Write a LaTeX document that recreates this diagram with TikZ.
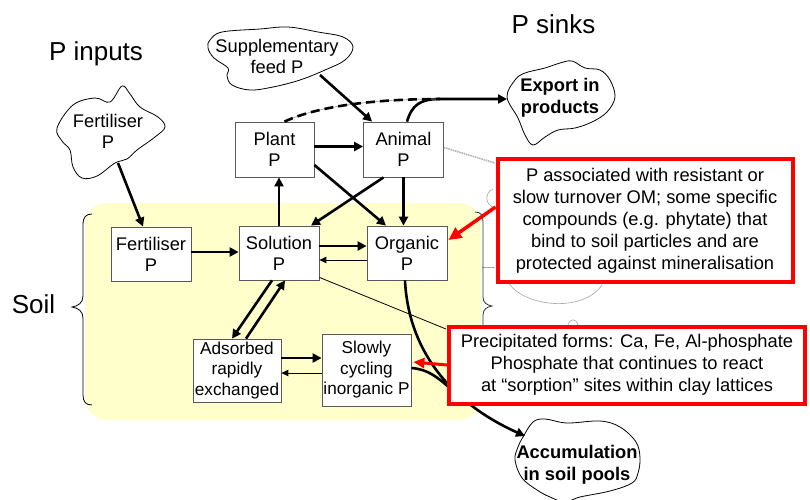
\documentclass[tikz,border=0pt]{standalone}
\usepackage{fontspec}
\setmainfont{Liberation Sans}
\usetikzlibrary{arrows.meta,calc}
\definecolor{soilyellow}{HTML}{FFFFCC}
\definecolor{boxred}{HTML}{FF0000}
\begin{document}
\begin{tikzpicture}[x=1pt,y=-1pt,
  box/.style={draw=black!65,line width=0.8pt,fill=white,align=center,inner sep=0pt,font=\fontsize{18.3}{21}\selectfont},
  sbox/.style={box,font=\fontsize{17.2}{20.5}\selectfont},
  redbox/.style={draw=boxred,line width=4pt,fill=white,align=center,inner sep=0pt,font=\fontsize{18.3}{22}\selectfont},
  thickarr/.style={line width=2.6pt,-{Triangle[length=9pt,width=9pt]}},
  thinarr/.style={line width=1pt,-{Triangle[length=7pt,width=6.5pt]}},
  redarr/.style={draw=boxred,line width=3.5pt,-{Triangle[length=13pt,width=12pt]}},
  cloudline/.style={draw=black,line width=0.8pt,fill=white},
  heading/.style={font=\fontsize{26}{30}\selectfont,inner sep=0pt},
  cloudtext/.style={align=center,inner sep=0pt,font=\fontsize{18.3}{21}\selectfont},
  boldcloudtext/.style={align=center,inner sep=0pt,font=\fontsize{18.3}{22}\selectfont\bfseries},
  faint/.style={draw=gray!70,line width=0.6pt},
]
\useasboundingbox (0,0) rectangle (810,499);
\fill[white] (0,0) rectangle (810,499);

% soil area
\fill[soilyellow,rounded corners=22pt] (85,203) rectangle (481,420);

% faint hidden remnants
\draw[faint] (493,189) .. controls (484,193) and (485,205) .. (495,208);
\draw[faint] (482,267) -- (495,267);
\draw[faint] (508,282) .. controls (522,306) and (582,314) .. (602,285);
\draw[faint] (568,325) .. controls (570,318) and (576,318) .. (578,325);

% braces
\draw[line width=0.8pt] (92,214) .. controls (86,214) and (83,217) .. (83,225) -- (83,296)
  .. controls (83,303) and (78,306) .. (72,307) .. controls (78,308) and (83,311) .. (83,318)
  -- (83,395) .. controls (83,402) and (86,405) .. (92,405);
\draw[line width=0.8pt,black!80] (475,212) .. controls (481,212) and (483,215) .. (483,222) -- (483,297)
  .. controls (483,303) and (487,305) .. (492,306) .. controls (487,307) and (483,309) .. (483,315)
  -- (483,393) .. controls (483,398) and (481,400) .. (475,400);

% headings
\node[heading,anchor=base] (pin) at (96,60) {P inputs};
\node[heading,anchor=base] (psink) at (553.5,33) {P sinks};
\node[heading,anchor=base] (soil) at (33.5,313) {Soil};

% clouds
\draw[cloudline] plot[smooth cycle,tension=0.6] coordinates {(210,40) (222,32) (260,29) (288,27) (318,32) (343,37) (353,47) (345,60) (325,70) (300,80) (273,87) (250,90) (232,85) (227,76) (228,68) (214,58) (208,48)};
\node[cloudtext] (supp) at (277,56) {Supplementary\\feed P};
\coordinate (suppout) at (320,75);

\draw[cloudline] plot[smooth cycle,tension=0.6] coordinates {(122,86) (130,94) (140,107) (158,117) (165,127) (155,137) (137,150) (127,159) (115,163) (97,176) (82,178) (73,167) (70,150) (62,141) (57,128) (73,105) (95,98) (110,102)};
\node[cloudtext] (fcloud) at (108,131) {Fertiliser\\P};
\coordinate (fcloudout) at (118,163);

\draw[cloudline] plot[smooth cycle,tension=0.6] coordinates {(507,97) (515,80) (525,73) (545,68) (560,63) (572,61) (585,68) (600,70) (610,80) (615,97) (607,112) (592,122) (575,128) (558,130) (545,137) (533,145) (525,135) (518,118)};
\node[boldcloudtext] (export) at (560,97.3) {Export in\\products};
\coordinate (exportin) at (507,99);

\draw[cloudline] plot[smooth cycle,tension=0.6] coordinates {(523,437) (533,422) (545,419) (567,423) (600,421) (620,427) (636,442) (640,458) (638,473) (632,483) (610,491) (580,497) (565,502) (550,497) (537,490) (522,478) (515,460) (518,447)};
\node[boldcloudtext] (accum) at (577,464.3) {Accumulation\\in soil pools};
\coordinate (accumin) at (525,436);

% boxes
\node[box,minimum width=79pt,minimum height=55pt] (plant) at (274.5,149.5) {Plant\\P};
\node[box,minimum width=80pt,minimum height=55pt] (animal) at (403.5,149.5) {Animal\\P};
\node[box,minimum width=80pt,minimum height=54pt] (fert) at (151,254) {Fertiliser\\P};
\node[box,minimum width=80pt,minimum height=54pt] (sol) at (279,253) {Solution\\P};
\node[box,minimum width=80pt,minimum height=54pt] (org) at (407,253) {Organic\\P};
\node[sbox,minimum width=88pt,minimum height=63pt] (ads) at (237,370.5) {Adsorbed\\rapidly\\exchanged};
\node[sbox,minimum width=89pt,minimum height=72pt] (slow) at (366.5,370) {Slowly\\cycling\\inorganic P};

% lines passing behind the red boxes
\draw[line width=0.8pt] ($(sol.south east)+(0,-3)$) -- (446,329);
\draw[gray!60,line width=1.6pt,dash pattern=on 1.5pt off 0.8pt] ($(animal.east)+(0,-2)$) -- (495,163);
\draw[thickarr] ($(org.south)+(-2,0)$) .. controls (408,345) and (445,400) .. (accumin);
\draw[line width=2.6pt] ($(slow.east)+(0,-2)$) .. controls (428,369) and (440,378) .. (460,398);

% export and dashed
\draw[thickarr] ($(animal.north)+(3.5,0)$) .. controls (412,105) and (420,99) .. (440,99) -- (exportin);
\draw[gray!70,line width=0.7pt] ($(plant.north)+(10,0)$) .. controls (320,105) and (380,99) .. (440,99);
\draw[line width=2.6pt,dash pattern=on 9pt off 5pt] ($(plant.north)+(10,0)$) .. controls (320,105) and (380,99) .. (440,99);

% arrows
\draw[thickarr] (fcloudout) -- ($(fert.north)+(-8,0)$);
\draw[thickarr] (suppout) -- ($(animal.north west)+(9,0)$);
\draw[thickarr] ($(plant.east)+(0,-3)$) -- ($(animal.west)+(0,-3)$);
\draw[thickarr] ($(plant.east)+(0,15.5)$) -- ($(org.north)+(-21,0)$);
\draw[thickarr] ($(animal.south)+(-20,0)$) -- ($(sol.north)+(32,0)$);
\draw[thickarr] (animal.south) -- (animal.south |- org.north);
\draw[thickarr] (sol.north) -- (sol.north |- plant.south);
\draw[thickarr] ($(fert.east)+(0,-2)$) -- ($(sol.west)+(0,-1)$);
\draw[thickarr] ($(sol.east)+(0,-7)$) -- ($(org.west)+(0,-7)$);
\draw[thinarr] ($(org.west)+(0,7)$) -- ($(sol.east)+(0,7)$);
\draw[thickarr] ($(sol.south)+(-7,0)$) -- ($(ads.north)+(-5,0)$);
\draw[thickarr] ($(ads.north)+(9,0)$) -- ($(sol.south)+(6,0)$);
\coordinate (adsout) at ($(ads.east)+(0,-12.5)$);
\draw[thickarr] (adsout) -- (adsout -| slow.west);
\coordinate (slowout) at ($(slow.west)+(0,3)$);
\draw[thinarr] (slowout) -- (slowout -| ads.east);

% red boxes
\node[redbox,minimum width=295pt,minimum height=123pt] (red1) at (645,220.5) {P associated with resistant or\\slow turnover OM; some specific\\compounds (e.g. phytate) that\\bind to soil particles and are\\protected against mineralisation};
\node[redbox,minimum width=356pt,minimum height=77pt] (red2) at (627,365) {Precipitated forms: Ca, Fe, Al-phosphate\\Phosphate that continues to react\\at “sorption” sites within clay lattices};

\draw[redarr] ($(red1.west)+(0,-13.5)$) -- ($(org.east)+(1,-13)$);
\draw[boxred,line width=3pt,-{Triangle[length=11pt,width=10pt]}] (red2.west) -- ($(slow.east)+(2,-8)$);
\end{tikzpicture}
\end{document}
